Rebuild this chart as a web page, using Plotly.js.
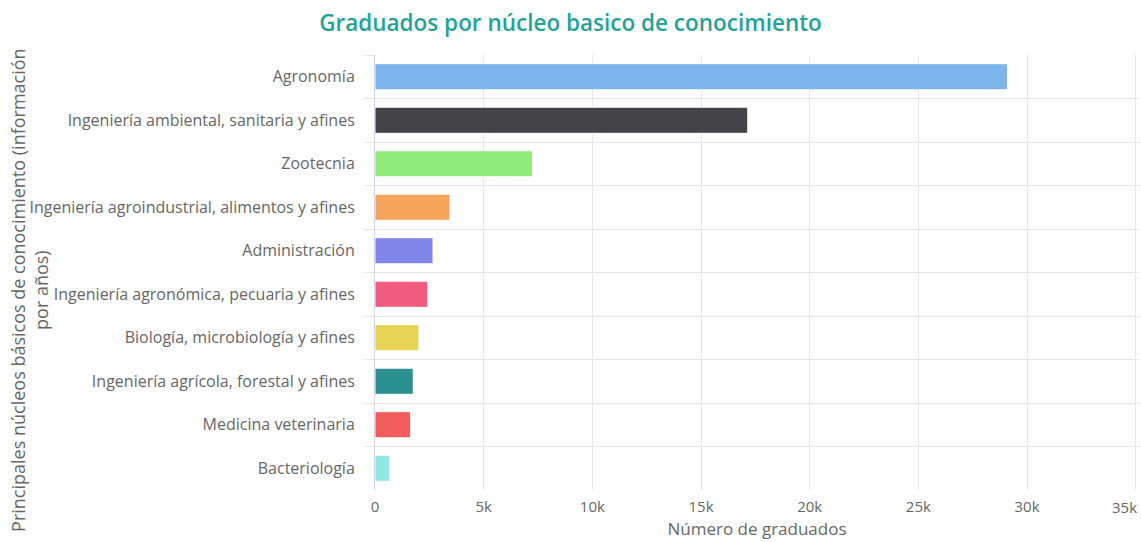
<!DOCTYPE html>
<html>
<head>
<meta charset="utf-8">
<script src="https://cdn.plot.ly/plotly-3.0.1.min.js"></script>
<style>html,body{margin:0;padding:0;background:#fff;}#chart{width:1141px;height:542px;}</style>
</head>
<body>
<div id="chart"></div>
<script>
const categories = [
  "Agronomía",
  "Ingeniería ambiental, sanitaria y afines",
  "Zootecnia",
  "Ingeniería agroindustrial, alimentos y afines",
  "Administración",
  "Ingeniería agronómica, pecuaria y afines",
  "Biología, microbiología y afines",
  "Ingeniería agrícola, forestal y afines",
  "Medicina veterinaria",
  "Bacteriología"
];
const graduados = [29100, 17150, 7250, 3450, 2670, 2430, 2020, 1760, 1640, 680];
const barColors = ["#7cb5ec","#434348","#90ed7d","#f7a35c","#8085e9","#f15c80","#e4d354","#2b908f","#f45b5b","#91e8e1"];
const xTickVals = [0, 5000, 10000, 15000, 20000, 25000, 30000, 35000];
const xTickText = ["0", "5k", "10k", "15k", "20k", "25k", "30k", "35k"];

const lastIdx = xTickVals.length - 1;
const shownTickText = xTickText.map((t, i) => i === lastIdx ? " " : t);

const trace = {
  type: "bar",
  orientation: "h",
  y: categories,
  x: graduados,
  marker: {color: barColors, line: {color: "#ffffff", width: 1}},
  hoverinfo: "x+y"
};

const tickFont = {family: "Open Sans, sans-serif", size: 15, color: "#666666"};

const layout = {
  width: 1141,
  height: 542,
  margin: {l: 375, r: 2, t: 55, b: 52},
  paper_bgcolor: "#ffffff",
  plot_bgcolor: "#ffffff",
  showlegend: false,
  bargap: 0.4,
  title: {
    text: "Graduados por núcleo basico de conocimiento",
    font: {family: "Open Sans, sans-serif", size: 22.5, color: "#1fa39a", weight: 600},
    x: 0.5, xanchor: "center", y: 0.958, yanchor: "middle", yref: "container"
  },
  xaxis: {
    range: [0, 35150],
    tickvals: xTickVals,
    ticktext: shownTickText,
    showgrid: true,
    gridcolor: "#e6e6e6",
    zeroline: false,
    showline: false,
    ticks: "",
    ticklabelstandoff: 6,
    tickfont: tickFont,
    title: {
      text: "Número de graduados",
      font: {family: "Open Sans, sans-serif", size: 17, color: "#666666"},
      standoff: 8
    },
    fixedrange: true
  },
  yaxis: {
    type: "category",
    categoryorder: "array",
    categoryarray: categories,
    autorange: "reversed",
    tickson: "boundaries",
    ticks: "outside",
    ticklen: 10,
    tickcolor: "#e6e6e6",
    showgrid: true,
    gridcolor: "#e6e6e6",
    showline: true,
    linecolor: "#ccd6eb",
    linewidth: 1,
    zeroline: false,
    ticklabelstandoff: 16,
    tickfont: {family: "Open Sans, sans-serif", size: 16, color: "#666666"},
    fixedrange: true
  },
  annotations: [{
    text: "Principales núcleos básicos de conocimiento (información<br>por años)",
    textangle: -90,
    xref: "paper", yref: "paper",
    x: (30 - 375) / 764, y: 0.46,
    xanchor: "center", yanchor: "middle",
    showarrow: false,
    font: {family: "Open Sans, sans-serif", size: 18, color: "#666666"}
  }, {
    text: xTickText[lastIdx],
    xref: "x", yref: "paper",
    x: xTickVals[lastIdx], y: 0,
    xanchor: "right", yanchor: "top",
    xshift: 3, yshift: -5,
    showarrow: false,
    font: tickFont
  }]
};

Plotly.newPlot("chart", [trace], layout, {displayModeBar: false, staticPlot: true});
</script>
</body>
</html>
